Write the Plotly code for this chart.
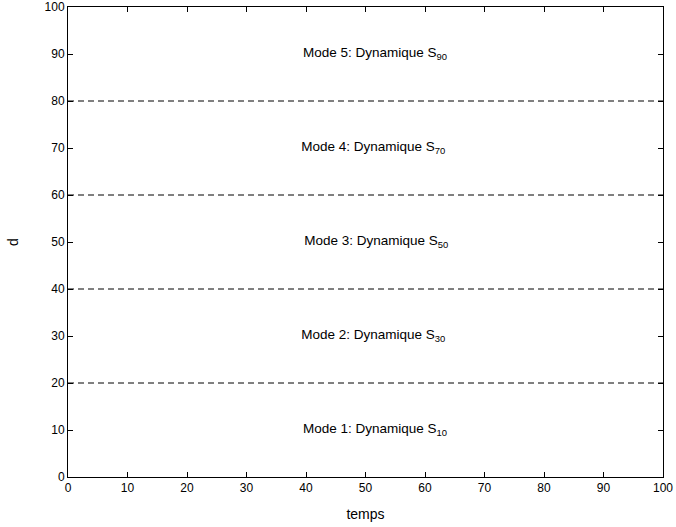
import plotly.graph_objects as go

x_range = [0, 100]
y_range = [0, 100]
boundaries = [20, 40, 60, 80]
mode_labels = ["Mode 1: Dynamique S<sub>10</sub>", "Mode 2: Dynamique S<sub>30</sub>",
               "Mode 3: Dynamique S<sub>50</sub>", "Mode 4: Dynamique S<sub>70</sub>",
               "Mode 5: Dynamique S<sub>90</sub>"]
label_x = [39.5, 39.2, 39.7, 39.2, 39.5]
label_y = [10, 30, 50, 70, 90]
ticks = list(range(0, 101, 10))

FONT = "Liberation Sans, Arial"

fig = go.Figure()
for b in boundaries:
    fig.add_trace(go.Scatter(x=x_range, y=[b, b], mode="lines",
                             line=dict(color="black", width=1, dash="6px,4px"),
                             showlegend=False, hoverinfo="skip"))

fig.add_trace(go.Scatter(x=label_x, y=label_y, mode="text", text=mode_labels,
                         textposition="middle right",
                         textfont=dict(family=FONT, size=13.5, color="black"),
                         showlegend=False, hoverinfo="skip", cliponaxis=False))

axis_common = dict(showgrid=False, zeroline=False, showline=True, linecolor="black",
                   linewidth=1, mirror="ticks", ticks="inside", ticklen=5,
                   tickcolor="black", tickfont=dict(family=FONT, size=12, color="black"),
                   tickvals=ticks, automargin=False)
fig.update_xaxes(range=x_range, title=dict(text="temps", font=dict(family=FONT, size=14, color="black"), standoff=14),
                 **axis_common)
fig.update_yaxes(range=y_range, title=dict(text="d", font=dict(family=FONT, size=14, color="black"), standoff=22),
                 **axis_common)

fig.update_layout(width=676, height=527, plot_bgcolor="white", paper_bgcolor="white",
                  margin=dict(l=68, r=13, t=7, b=50, autoexpand=False),
                  font=dict(family=FONT, color="black"))
fig.write_html("out.html", config={"displayModeBar": False},
               post_script="document.body.style.margin='0';document.body.style.overflow='hidden';")
